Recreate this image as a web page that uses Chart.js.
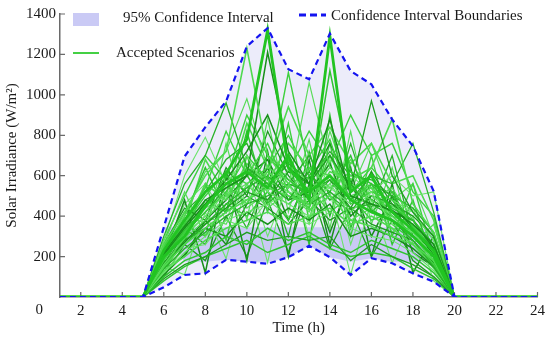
<!DOCTYPE html>
<html>
<head>
<meta charset="utf-8">
<script src="https://cdn.jsdelivr.net/npm/chart.js@4"></script>
<style>
  html, body { margin: 0; padding: 0; background: #fff; }
</style>
</head>
<body>
<canvas id="irradianceChart" width="550" height="340"></canvas>
<script>
// Hours of the day (x axis)
const hours = [1, 2, 3, 4, 5, 6, 7, 8, 9, 10, 11, 12, 13, 14, 15, 16, 17, 18, 19, 20, 21, 22, 23, 24];
const xTickValues = [0, 2, 4, 6, 8, 10, 12, 14, 16, 18, 20, 22, 24];
const yTickValues = [200, 400, 600, 800, 1000, 1200, 1400];

// Confidence interval boundaries (W/m2)
const upperBound = [0, 0, 0, 0, 0, 345, 695, 840, 968, 1240, 1330, 1127, 1077, 1303, 1118, 1052, 878, 746, 523, 0, 0, 0, 0, 0];
const lowerBound = [0, 0, 0, 0, 0, 48, 109, 117, 184, 175, 164, 197, 253, 197, 109, 192, 167, 117, 76, 0, 0, 0, 0, 0];

// darker 95% band
const bandHours = [6, 7, 8, 9, 10, 11, 12, 13, 14, 15, 16, 17, 18, 19];
const bandLow = [340, 175, 175, 184, 175, 175, 197, 253, 197, 175, 192, 175, 175, 175];
const bandHigh = [345, 345, 345, 345, 345, 345, 345, 345, 345, 345, 345, 345, 345, 330];

// Accepted scenarios: night hours are zero, daylight values for hours 6..19
const nightZeros = [0, 0, 0, 0, 0];
const scenarios = [
    [230, 380, 520, 610, 780, 1320, 640, 520, 600, 480, 420, 380, 300, 200],
    [200, 300, 450, 560, 620, 540, 700, 480, 1290, 520, 600, 420, 330, 230],
    [260, 420, 600, 720, 1230, 700, 560, 430, 500, 380, 350, 300, 260, 180],
    [300, 560, 700, 960, 640, 560, 480, 620, 480, 560, 430, 380, 280, 150],
    [280, 600, 790, 560, 700, 520, 460, 400, 560, 420, 520, 360, 320, 200],
    [220, 350, 480, 540, 600, 1210, 720, 560, 880, 500, 460, 430, 360, 260],
    [180, 320, 420, 520, 700, 580, 1110, 620, 780, 460, 520, 480, 350, 220],
    [160, 290, 380, 500, 560, 620, 540, 1060, 640, 540, 480, 400, 300, 180],
    [190, 330, 440, 600, 520, 700, 580, 500, 1120, 620, 560, 440, 380, 260],
    [170, 280, 360, 440, 520, 480, 620, 560, 700, 540, 970, 600, 420, 300],
    [150, 260, 340, 420, 480, 540, 500, 460, 620, 580, 640, 880, 460, 320],
    [140, 240, 320, 400, 460, 500, 560, 520, 580, 480, 600, 560, 760, 420],
    [120, 220, 300, 380, 420, 460, 520, 480, 540, 460, 520, 600, 500, 520],
    [210, 340, 460, 580, 720, 900, 640, 560, 760, 540, 480, 420, 380, 240],
    [250, 380, 540, 820, 600, 760, 520, 440, 700, 480, 560, 360, 280, 160],
    [240, 400, 620, 720, 980, 640, 580, 520, 640, 560, 500, 450, 380, 260],
    [100, 180, 220, 300, 260, 340, 280, 320, 260, 220, 280, 240, 200, 120],
    [90, 160, 200, 260, 320, 280, 300, 280, 300, 180, 260, 200, 160, 100],
    [130, 200, 280, 340, 380, 420, 360, 400, 440, 360, 400, 340, 260, 160],
    [160, 260, 360, 460, 540, 600, 500, 460, 520, 440, 460, 400, 300, 200],
    [200, 310, 400, 520, 480, 560, 620, 580, 480, 600, 520, 480, 420, 280],
    [110, 210, 340, 300, 420, 360, 440, 380, 460, 300, 340, 300, 240, 150],
    [180, 360, 300, 460, 400, 520, 460, 540, 420, 500, 380, 420, 300, 180],
    [140, 300, 400, 360, 560, 440, 520, 420, 600, 380, 440, 340, 260, 140],
    [220, 280, 480, 420, 640, 520, 380, 600, 520, 700, 420, 520, 340, 220],
    [260, 440, 380, 640, 500, 820, 600, 480, 580, 440, 620, 460, 400, 300],
    [190, 340, 560, 480, 660, 560, 760, 640, 540, 620, 540, 380, 320, 200],
    [150, 320, 420, 540, 600, 460, 560, 700, 500, 420, 560, 500, 340, 240],
    [120, 240, 260, 380, 340, 480, 400, 360, 420, 340, 300, 280, 220, 130],
    [170, 270, 380, 480, 600, 680, 480, 520, 660, 400, 500, 460, 340, 210],
    [230, 360, 500, 620, 560, 640, 800, 600, 700, 520, 640, 520, 420, 280],
    [200, 320, 440, 500, 640, 580, 520, 460, 560, 680, 480, 540, 380, 260],
    [80, 150, 200, 240, 280, 220, 260, 300, 240, 200, 220, 200, 140, 90],
    [140, 280, 340, 420, 500, 440, 360, 480, 380, 440, 360, 320, 280, 170],
    [210, 380, 460, 560, 460, 620, 540, 640, 600, 500, 540, 400, 360, 230],
    [250, 420, 520, 680, 760, 540, 660, 580, 720, 600, 580, 500, 440, 320],
    [150, 110, 420, 190, 560, 170, 640, 300, 520, 110, 480, 170, 400, 80],
    [200, 480, 120, 620, 180, 720, 200, 680, 260, 640, 200, 560, 120, 300],
    [120, 300, 560, 280, 700, 420, 860, 380, 760, 300, 700, 300, 560, 200],
    [260, 520, 300, 760, 380, 880, 420, 780, 340, 820, 360, 640, 260, 360],
    [180, 400, 640, 420, 820, 460, 700, 260, 900, 340, 620, 260, 480, 160],
    [100, 260, 180, 400, 200, 480, 220, 560, 240, 440, 200, 380, 180, 100],
    [240, 360, 680, 500, 860, 640, 940, 700, 840, 660, 760, 560, 600, 380],
    [160, 340, 260, 520, 340, 600, 300, 720, 400, 760, 440, 700, 300, 240],
    [220, 460, 560, 380, 620, 300, 560, 360, 680, 260, 560, 320, 440, 200],
    [140, 200, 380, 260, 460, 640, 380, 600, 320, 580, 300, 500, 220, 150],
    [280, 500, 700, 580, 900, 700, 620, 820, 660, 900, 700, 760, 520, 400],
    [190, 420, 360, 600, 440, 520, 680, 440, 820, 520, 760, 480, 560, 300],
];

const greens = ['#30c430', '#1f9e1f', '#4fda4f', '#28b228', '#6ae46a', '#18901a', '#3dd03d', '#58dc58'];
const widths = [1.5, 1.3, 1.6, 1.3, 1.1, 1.5, 1.4, 1.2];
const boundaryBlue = '#1414f0';
const lightFill = 'rgb(236,236,250)';
const bandFill = 'rgb(202,202,245)';
const axisGray = '#6a6a6a';
const textColor = '#1a1a1a';
const serif = '"Liberation Serif", "Times New Roman", serif';

const toPoints = (xs, ys) => xs.map((h, i) => ({ x: h, y: ys[i] }));

Chart.defaults.font.family = serif;
Chart.defaults.font.size = 15;
Chart.defaults.color = textColor;

const datasets = [
    { data: toPoints(bandHours, bandLow), borderWidth: 0, pointRadius: 0, fill: false },
    { data: toPoints(bandHours, bandHigh), borderWidth: 0, pointRadius: 0, fill: '-1', backgroundColor: bandFill },
    { data: toPoints(hours, lowerBound), borderColor: boundaryBlue, borderWidth: 2.2, borderDash: [6, 4], pointRadius: 0, fill: false },
    { data: toPoints(hours, upperBound), borderColor: boundaryBlue, borderWidth: 2.2, borderDash: [6, 4], pointRadius: 0, fill: '-1', backgroundColor: lightFill },
];
scenarios.forEach((s, i) => {
    datasets.push({
        data: toPoints(hours, [...nightZeros, ...s, ...nightZeros]),
        borderColor: i < 2 ? '#22c422' : greens[i % greens.length],
        borderWidth: i < 2 ? 2.8 : widths[i % widths.length],
        pointRadius: 0,
        fill: false,
    });
});

// inward tick marks + the lone "0" label left of the axis
const axisDecor = {
    id: 'axisDecor',
    beforeDatasetsDraw(chart) {
        const { ctx, chartArea, scales: { x, y } } = chart;
        ctx.save();
        ctx.strokeStyle = axisGray;
        ctx.lineWidth = 1.2;
        ctx.beginPath();
        x.ticks.forEach(t => {
            const px = x.getPixelForValue(t.value);
            ctx.moveTo(px, chartArea.bottom);
            ctx.lineTo(px, chartArea.bottom - 5);
        });
        y.ticks.forEach(t => {
            const py = y.getPixelForValue(t.value);
            ctx.moveTo(chartArea.left, py);
            ctx.lineTo(chartArea.left + 5, py);
        });
        ctx.stroke();
        ctx.fillStyle = textColor;
        ctx.font = '15px ' + serif;
        ctx.textAlign = 'center';
        ctx.textBaseline = 'middle';
        xTickValues.filter(v => v < x.min).forEach(v => {
            ctx.fillText(String(v), x.getPixelForValue(v), chartArea.bottom + 13);
        });
        ctx.restore();
    }
};

const legendBox = {
    id: 'legendBox',
    afterDraw(chart) {
        const ctx = chart.ctx;
        ctx.save();
        ctx.font = '15px ' + serif;
        ctx.textAlign = 'left';
        ctx.textBaseline = 'middle';

        ctx.fillStyle = bandFill;
        ctx.fillRect(73, 13, 26, 13);
        ctx.fillStyle = textColor;
        ctx.fillText('95% Confidence Interval', 123, 18);

        ctx.strokeStyle = '#44d044';
        ctx.lineWidth = 2;
        ctx.beginPath();
        ctx.moveTo(73, 53);
        ctx.lineTo(99, 53);
        ctx.stroke();
        ctx.fillText('Accepted Scenarios', 116, 53);

        ctx.strokeStyle = boundaryBlue;
        ctx.lineWidth = 3;
        ctx.setLineDash([7, 4]);
        ctx.beginPath();
        ctx.moveTo(299, 15);
        ctx.lineTo(326, 15);
        ctx.stroke();
        ctx.setLineDash([]);
        ctx.fillText('Confidence Interval Boundaries', 331, 16);
        ctx.restore();
    }
};

const ctx = document.querySelector('#irradianceChart').getContext('2d');
const irradianceChart = new Chart(ctx, {
    type: 'line',
    data: { datasets },
    options: {
        responsive: false,
        animation: false,
        layout: { padding: { top: 14, right: 9, left: 0, bottom: 0 } },
        plugins: {
            legend: { display: false },
            tooltip: { enabled: false },
            filler: { drawTime: 'beforeDatasetsDraw' },
        },
        elements: { line: { tension: 0 } },
        scales: {
            x: {
                type: 'linear',
                min: 1,
                max: 24,
                afterBuildTicks: (scale) => {
                    scale.ticks = xTickValues.filter(v => v >= 1).map(v => ({ value: v }));
                },
                afterFit: (scale) => { scale.height = 43; },
                grid: { display: false, drawTicks: false },
                border: { display: true, color: axisGray, width: 1.5 },
                ticks: { padding: 5, maxRotation: 0, autoSkip: false, color: textColor },
                title: { display: true, text: 'Time (h)', padding: { top: 0, bottom: 3 }, color: textColor },
            },
            y: {
                min: 0,
                max: 1400,
                afterBuildTicks: (scale) => {
                    scale.ticks = yTickValues.map(v => ({ value: v }));
                },
                afterFit: (scale) => { scale.width = 60; },
                grid: { display: false, drawTicks: false },
                border: { display: true, color: axisGray, width: 1.5 },
                ticks: { padding: 4, color: textColor, callback: (v) => String(v) },
                title: { display: true, text: 'Solar Irradiance (W/m²)', padding: { top: 3, bottom: 0 }, color: textColor },
            },
        },
    },
    plugins: [axisDecor, legendBox],
});
</script>
</body>
</html>
